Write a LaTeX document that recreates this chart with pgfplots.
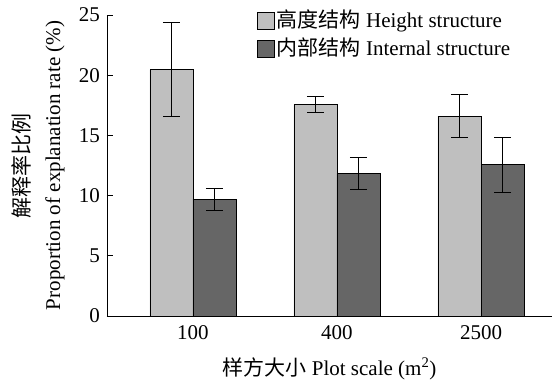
\documentclass[border=0pt]{standalone}
\usepackage{fontspec}
\setmainfont{Liberation Serif}
\newfontfamily\cjk{Noto Sans CJK SC}
\usepackage{pgfplots}
\pgfplotsset{compat=1.18}
\definecolor{lightbar}{HTML}{BFBFBF}
\definecolor{darkbar}{HTML}{666666}
\begin{document}
\fontsize{21}{25}\selectfont
\begin{tikzpicture}
\path[use as bounding box] (-107pt,-67pt) rectangle (448pt,316pt);
\begin{axis}[
  at={(0,0)}, anchor=south west,
  scale only axis, width=445pt, height=301pt,
  xmin=-0.597, xmax=2.493, ymin=0, ymax=25,
  axis x line=bottom, axis y line=left,
  axis line style={-, line width=0.8pt, black},
  xtick={0,1,2}, xticklabels={100,400,2500},
  xtick style={draw=none},
  xticklabel style={yshift=-2pt},
  ytick={0,5,10,15,20,25},
  ytick style={line width=0.8pt, black},
  tick align=inside, major tick length=6pt,
  /pgf/number format/assume math mode=true,
  tick label style={font=\fontsize{21}{25}\selectfont},
  label style={font=\fontsize{21}{25}\selectfont},
  ylabel={{\cjk 解释率比例}\\[6pt]Proportion of explanation rate (\%)},
  ylabel style={align=center},
  xlabel={{\cjk 样方大小} Plot scale (m\textsuperscript{2})},
  xlabel style={yshift=-4pt},
  legend cell align=left,
  legend style={draw=none, fill=none, at={(axis description cs:0.330,1.03)}, anchor=north west,
    font=\fontsize{21}{25}\selectfont, row sep=3pt},
]
\addlegendimage{legend image code/.code={\draw[fill=lightbar, draw=black, line width=0.8pt] (0pt,-8.5pt) rectangle (17pt,8.5pt);}}
\addlegendentry{{\cjk 高度结构} Height structure}
\addlegendimage{legend image code/.code={\draw[fill=darkbar, draw=black, line width=0.8pt] (0pt,-8.5pt) rectangle (17pt,8.5pt);}}
\addlegendentry{{\cjk 内部结构} Internal structure}
\addplot[ybar, bar width=43pt, bar shift=0pt, fill=lightbar, draw=black, line width=0.8pt, forget plot,
  error bars/.cd, y dir=both, y explicit,
  error bar style={black, line width=0.8pt},
  error mark options={rotate=90, mark size=8.5pt, line width=0.8pt, black}]
  coordinates {(-0.1493,20.45) +- (0,3.9) (0.8507,17.55) +- (0,0.65) (1.8507,16.6) +- (0,1.8)};
\addplot[ybar, bar width=43pt, bar shift=0pt, fill=darkbar, draw=black, line width=0.8pt, forget plot,
  error bars/.cd, y dir=both, y explicit,
  error bar style={black, line width=0.8pt},
  error mark options={rotate=90, mark size=8.5pt, line width=0.8pt, black}]
  coordinates {(0.1493,9.7) +- (0,0.9) (1.1493,11.85) +- (0,1.3) (2.1493,12.55) +- (0,2.3)};
\end{axis}
\end{tikzpicture}
\end{document}
